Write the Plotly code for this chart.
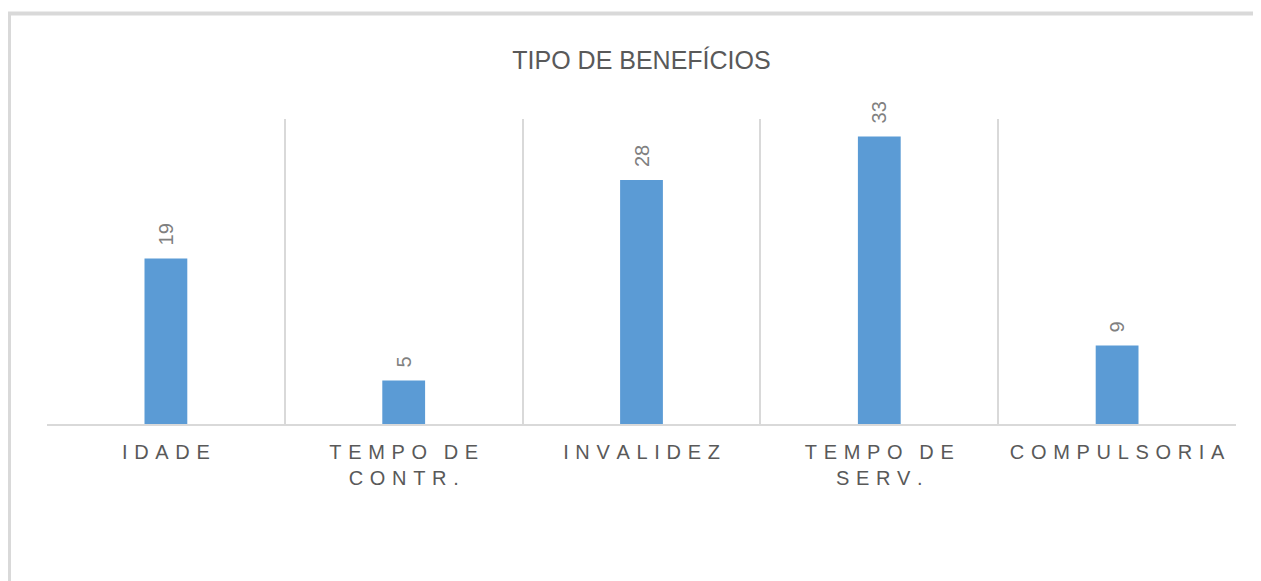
import plotly.graph_objects as go

categories = ["IDADE", "TEMPO DE CONTR.", "INVALIDEZ", "TEMPO DE SERV.", "COMPULSORIA"]
values = [19, 5, 28, 33, 9]
tick_lines = [["IDADE"], ["TEMPO DE", "CONTR."], ["INVALIDEZ"], ["TEMPO DE", "SERV."], ["COMPULSORIA"]]
title_text = "TIPO DE BENEFÍCIOS"

GAP = "\u2004"   # three-per-em space between letters
EN = "\u2002"


def spaced(line):
    words = line.split(" ")
    return (GAP + EN).join(GAP.join(list(w)) for w in words)


tick_text = ["<br>".join(spaced(l) for l in lines) for lines in tick_lines]
label_text = [EN + str(v) for v in values]

# page body has an 8px default margin; figure is laid out in its own pixels
OFF = 8
W, H = 1261 - OFF, 581 - OFF
L = 47 - OFF
T = 119 - OFF
R = W - (1236 - OFF)
B = H - (424 - OFF)
plot_w = W - L - R
plot_h = H - T - B

fig = go.Figure(
    go.Bar(
        x=categories,
        y=values,
        width=0.18,
        marker=dict(color="#5B9BD5", line=dict(width=0)),
        text=label_text,
        textposition="outside",
        textangle=-90,
        textfont=dict(family="Liberation Sans", size=20, color="#808080"),
        cliponaxis=False,
    )
)

fig.update_layout(
    width=W,
    height=H,
    margin=dict(l=L, r=R, t=T, b=B),
    paper_bgcolor="white",
    plot_bgcolor="white",
    showlegend=False,
    title=dict(
        text=title_text,
        x=(L + plot_w / 2) / W,
        xanchor="center",
        y=1 - (60 - OFF) / H,
        yanchor="middle",
        font=dict(family="Liberation Sans", size=25, color="#595959"),
    ),
    xaxis=dict(
        type="category",
        tickson="boundaries",
        tickmode="array",
        tickvals=categories,
        ticktext=tick_text,
        ticks="",
        showgrid=True,
        gridcolor="#D9D9D9",
        gridwidth=1.5,
        showline=True,
        linecolor="#D9D9D9",
        linewidth=1.5,
        tickfont=dict(family="Liberation Sans", size=20, color="#595959"),
        ticklabelstandoff=9,
        range=[-0.5, 4.5],
        fixedrange=True,
    ),
    yaxis=dict(
        visible=False,
        range=[0, 35],
        showgrid=False,
        zeroline=False,
        fixedrange=True,
    ),
    shapes=[
        dict(
            type="rect",
            xref="paper",
            yref="paper",
            x0=(1.0 - L) / plot_w,
            x1=1.2,
            y0=-1.0,
            y1=(plot_h + T - (13.5 - OFF)) / plot_h,
            line=dict(color="#D9D9D9", width=4),
            layer="below",
        )
    ],
)

fig.write_html("out.html")
